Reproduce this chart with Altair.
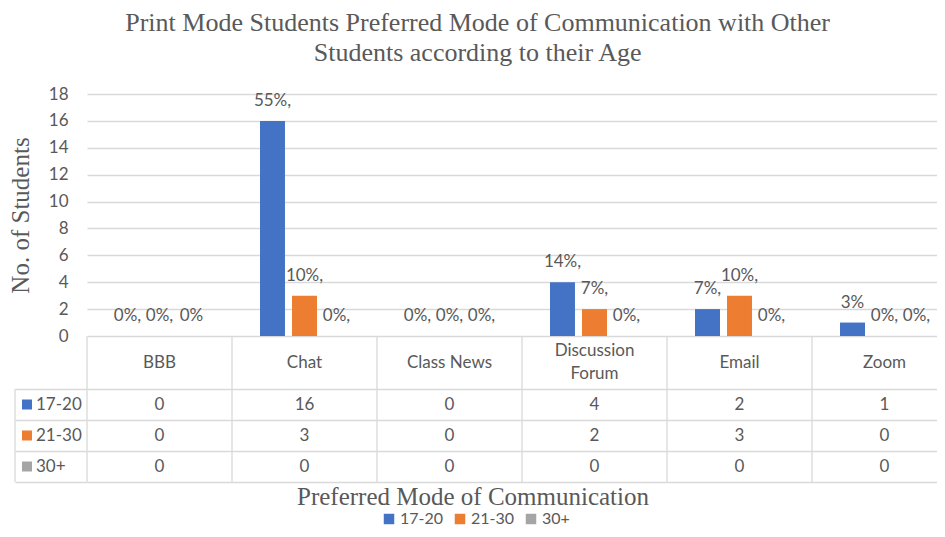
import altair as alt
import pandas as pd

# ---- data ----
categories = ["BBB", "Chat", "Class News", "Discussion Forum", "Email", "Zoom"]
header_lines = [["BBB"], ["Chat"], ["Class News"], ["Discussion", "Forum"], ["Email"], ["Zoom"]]
series = ["17-20", "21-30", "30+"]
values_17_20 = [0, 16, 0, 4, 2, 1]
values_21_30 = [0, 3, 0, 2, 3, 0]
values_30_plus = [0, 0, 0, 0, 0, 0]
labels_17_20 = ["0%,", "55%,", "0%,", "14%,", "7%,", "3%"]
labels_21_30 = ["0%,", "10%,", "0%,", "7%,", "10%,", "0%,"]
labels_30_plus = ["0%", "0%,", "0%,", "0%,", "0%,", "0%,"]
colors = ["#4472C4", "#ED7D31", "#A5A5A5"]
y_ticks = [0, 2, 4, 6, 8, 10, 12, 14, 16, 18]
row_bounds = [0, 1, 2, 3]

rows = []
for s, vals, labs in zip(series,
                         [values_17_20, values_21_30, values_30_plus],
                         [labels_17_20, labels_21_30, labels_30_plus]):
    for c, v, l in zip(categories, vals, labs):
        rows.append({"category": c, "series": s, "value": v, "label": l})
df = pd.DataFrame(rows)

hdr_rows = []
for c, lines in zip(categories, header_lines):
    n = len(lines)
    for i, t in enumerate(lines):
        hdr_rows.append({"category": c, "text": t, "pos": i - (n - 1) / 2})
hdr_df = pd.DataFrame(hdr_rows)
cat_df = pd.DataFrame({"category": categories})
ser_df = pd.DataFrame({"series": series})
frame_df = pd.DataFrame({"top": [min(row_bounds)], "bottom": [max(row_bounds)]})

TXT = "#595959"
GRID = "#D9D9D9"
SANS = "Lato"
SERIF = "Liberation Serif"
W = 850           # visible plot width (the reference is cropped on the right)
BAND_RANGE = 870  # six categories of 145 px each

xscale = alt.Scale(domain=categories, range=[0, BAND_RANGE], paddingInner=0, paddingOuter=0)
offscale = alt.Scale(domain=series, paddingInner=0.22, paddingOuter=0.875)
cscale = alt.Scale(domain=series, range=colors)

# ---- bar plot ----
legend = alt.Legend(orient="none", legendX=294, legendY=417, direction="horizontal",
                    title=None, symbolType="square", symbolSize=110, symbolStrokeWidth=0,
                    labelFont=SANS, labelFontSize=16, labelColor=TXT, columnPadding=8,
                    labelOffset=3)

yaxis = alt.Axis(values=y_ticks, title="No. of Students", titleFont=SERIF,
                 titleFontSize=25, titleFontWeight="normal", titleColor=TXT,
                 titlePadding=15, labelFont=SANS, labelFontSize=17,
                 labelColor=TXT, labelPadding=19, ticks=False, domain=False,
                 grid=True, gridColor=GRID, gridWidth=1.3)

base = alt.Chart(df).encode(
    x=alt.X("category:N", sort=categories, scale=xscale, axis=None),
    xOffset=alt.XOffset("series:N", sort=series, scale=offscale),
    y=alt.Y("value:Q", scale=alt.Scale(domain=[0, 18]), axis=yaxis),
)
bars = base.mark_bar().encode(color=alt.Color("series:N", scale=cscale, legend=legend))
bar_labels = base.mark_text(baseline="middle", dy=-20, font=SANS, fontSize=17,
                            color=TXT).encode(text="label:N")
top = alt.layer(bars, bar_labels).properties(width=W, height=242)


# ---- table: vertical separators at category boundaries ----
def col_lines():
    return alt.Chart(cat_df).mark_rule(color=GRID, strokeWidth=1.3).encode(
        x=alt.X("category:N", sort=categories, scale=xscale, bandPosition=0, axis=None))


# ---- table header ----
header_text_layer = alt.Chart(hdr_df).mark_text(font=SANS, fontSize=17, color=TXT).encode(
    x=alt.X("category:N", sort=categories, scale=xscale, axis=None),
    y=alt.Y("pos:Q", scale=alt.Scale(domain=[1.15, -1.15]), axis=None),
    text="text:N",
)
header = alt.layer(col_lines(), header_text_layer).properties(width=W, height=53)

# ---- table body ----
yband = alt.Scale(domain=series, paddingInner=0, paddingOuter=0)
frame = alt.Chart(frame_df).mark_rule(color=GRID, strokeWidth=1.3).encode(
    x=alt.value(-72),
    y=alt.Y("top:Q", scale=alt.Scale(domain=[0, 3], reverse=True),
            axis=alt.Axis(values=row_bounds, grid=True, gridColor=GRID, gridWidth=1.3,
                          tickSize=72, tickColor=GRID, tickWidth=1.3, labels=False,
                          domain=False, title=None)),
    y2="bottom:Q",
)
cells = alt.Chart(df).mark_text(font=SANS, fontSize=17, color=TXT).encode(
    x=alt.X("category:N", sort=categories, scale=xscale, axis=None),
    y=alt.Y("series:N", sort=series, scale=yband, axis=None),
    text="value:Q",
)
row_keys = alt.Chart(ser_df).mark_square(size=100, opacity=1).encode(
    x=alt.value(-60),
    y=alt.Y("series:N", sort=series, scale=yband, axis=None),
    color=alt.Color("series:N", scale=cscale, legend=None),
)
row_names = alt.Chart(ser_df).mark_text(align="left", font=SANS, fontSize=17,
                                        color=TXT).encode(
    x=alt.value(-51),
    y=alt.Y("series:N", sort=series, scale=yband, axis=None),
    text="series:N",
)
body = alt.layer(frame, col_lines(), cells, row_keys, row_names).resolve_scale(
    y="independent").properties(
    width=W, height=93,
    title=alt.Title("Preferred Mode of Communication", orient="bottom", anchor="middle",
                    frame="group", font=SERIF, fontSize=25, fontWeight="normal",
                    color=TXT, offset=2, dx=-39),
)

chart = alt.vconcat(top, header, body, spacing=0, bounds="flush").properties(
    title=alt.Title(["Print Mode Students Preferred Mode of Communication with Other",
                     "Students according to their Age"],
                    font=SERIF, fontSize=26, fontWeight="normal", color=TXT,
                    anchor="middle", frame="bounds", lineHeight=30, offset=19, dx=5),
    padding={"left": 0, "top": 2, "right": 0, "bottom": 0},
).configure_view(stroke=None)

chart.save("out.html", embed_options={"renderer": "svg", "actions": False})
